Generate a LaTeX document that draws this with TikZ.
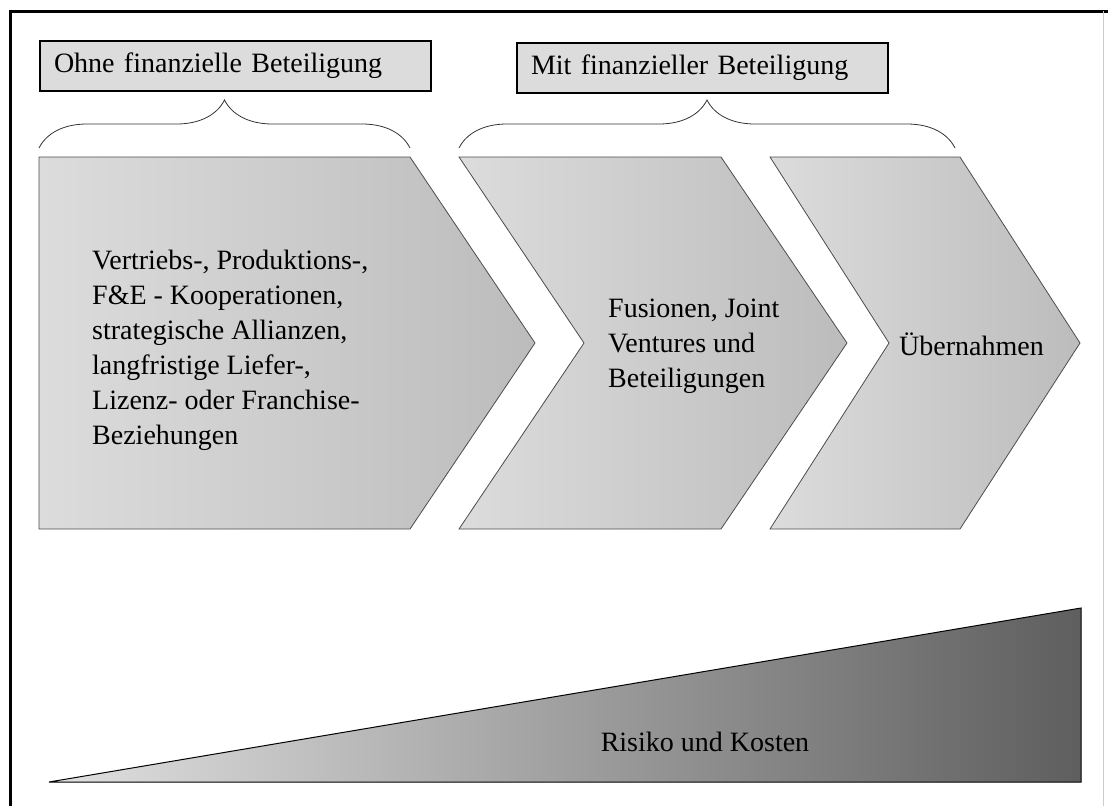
\documentclass[tikz,border=0pt]{standalone}
\usepackage{fontspec}
\setmainfont{Liberation Serif}
\usetikzlibrary{decorations.pathreplacing}
\definecolor{boxgray}{HTML}{DCDCDC}
\definecolor{chevlight}{HTML}{DCDCDC}
\definecolor{chevdark}{HTML}{BCBCBC}
\tikzset{x=1pt, y=-1pt,
    every node/.style={
        font=\fontsize{28}{35}\selectfont},
    labelbox/.style={
        draw=black,
        line width=2pt,
        fill=boxgray,
        anchor=north west,
        inner xsep=14pt,
        minimum height=50pt,
        align=left},
    chevron/.style={
        draw=black!70,
        line width=0.8pt,
        left color=chevlight,
        right color=chevdark},
    chevtext/.style={
        anchor=west,
        inner sep=0pt,
        align=left},
    bracket/.style={
        draw=black!80,
        line width=0.8pt,
        decorate,
        decoration={brace, amplitude=48pt}},
    ramp/.style={
        draw=black,
        line width=1pt,
        left color=black!12,
        right color=black!63}}

\begin{document}
\begin{tikzpicture}
        \useasboundingbox (0,0) rectangle (1108,806);
        % frame
        \draw[line width=3pt] (10,806) -- (10,11) -- (1108,11);
        \draw[black!20] (1103,11) -- (1103,806);

        % group labels
        \node[labelbox, text width=363pt] (ohne) at (39,40) {Ohne finanzielle Beteiligung};
        \node[labelbox, text width=343pt] (mit) at (516,42) {Mit finanzieller Beteiligung};

        % braces
        \coordinate (b1l) at (39,148);
        \coordinate (b1r) at (410,148);
        \coordinate (b2l) at (459,148);
        \coordinate (b2r) at (955,148);
        \draw[bracket] (b1l) -- (b1r);
        \draw[bracket] (b2l) -- (b2r);

        % chevrons
        \draw[chevron] (39,157) -- (410,157) -- (535,343) -- (410,529) -- (39,529) -- cycle;
        \draw[chevron] (459,157) -- (721,157) -- (847,343) -- (721,529) -- (459,529) -- (584,343) -- cycle;
        \draw[chevron] (770,157) -- (960,157) -- (1080,343) -- (960,529) -- (770,529) -- (889,343) -- cycle;

        \node[chevtext] (koop) at (92,350) {Vertriebs-, Produktions-,\\F\&E - Kooperationen,\\strategische Allianzen,\\langfristige Liefer-,\\Lizenz- oder Franchise-\\Beziehungen};
        \node[chevtext] (fusion) at (608,346) {Fusionen, Joint\\Ventures und\\Beteiligungen};
        \node[chevtext] (uebern) at (899,344) {Übernahmen};

        % risk wedge
        \draw[ramp] (49,782) -- (1081,608) -- (1081,782) -- cycle;
        \node (risiko) at (705,742) {Risiko und Kosten};
\end{tikzpicture}
\end{document}
